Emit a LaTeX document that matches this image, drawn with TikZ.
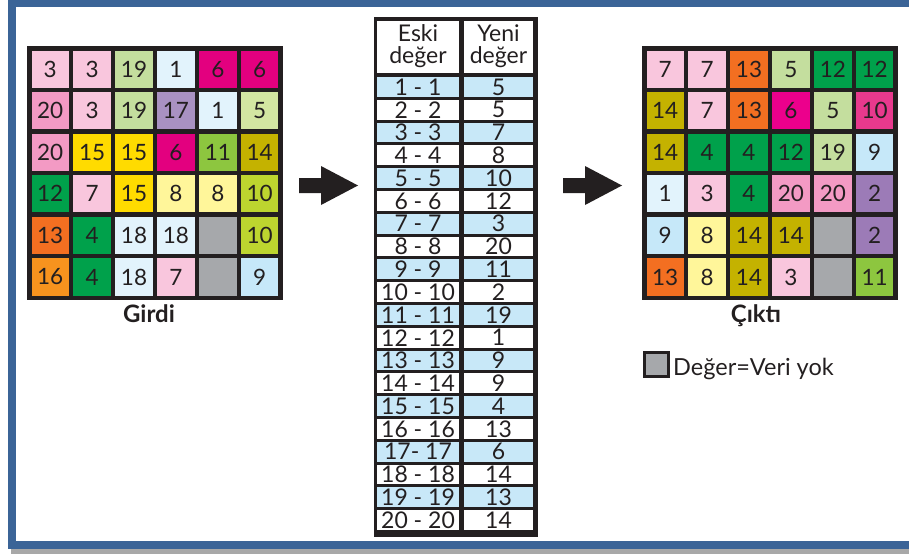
\documentclass[tikz,border=0pt]{standalone}
\usepackage{fontspec}
\setmainfont{Lato}
\definecolor{ink}{HTML}{231F20}
\definecolor{framec}{HTML}{3B6497}
\definecolor{shadowc}{HTML}{A8A8A8}
\definecolor{lpink}{HTML}{F9C6DD}
\definecolor{pinkc}{HTML}{F39AC4}
\definecolor{lgreen}{HTML}{C4DE9E}
\definecolor{pgreen}{HTML}{D3E6A2}
\definecolor{vlblue}{HTML}{E2F3FC}
\definecolor{lblue}{HTML}{C6E8F9}
\definecolor{magentac}{HTML}{E3007F}
\definecolor{magentb}{HTML}{EC008C}
\definecolor{hotpink}{HTML}{E8398D}
\definecolor{lavender}{HTML}{A991C2}
\definecolor{purplec}{HTML}{9C7BB7}
\definecolor{yellowc}{HTML}{FFDB00}
\definecolor{pyellow}{HTML}{FFF69A}
\definecolor{greenc}{HTML}{00A14B}
\definecolor{ygreen}{HTML}{8DC63F}
\definecolor{olive}{HTML}{C4B200}
\definecolor{lime}{HTML}{BDD52F}
\definecolor{orangec}{HTML}{F36F21}
\definecolor{orangeb}{HTML}{F7931E}
\definecolor{nodata}{HTML}{A6A8AB}
\definecolor{tblue}{HTML}{C8E8F8}
\begin{document}
\begin{tikzpicture}[x=1pt,y=-1pt,
  cell/.style={minimum width=37.4pt, minimum height=37.1pt, inner sep=0pt,
    font=\fontsize{22.5}{22.5}\selectfont, text=ink},
  tcell/.style={minimum height=19.8pt, inner sep=0pt,
    font=\fontsize{23}{23}\selectfont, text=ink},
  gridbg/.style={fill=ink, inner sep=0pt, minimum width=256pt, minimum height=254pt},
  caption/.style={anchor=base, font=\fontsize{24}{24}\selectfont\bfseries, text=ink},
  blockarrow/.style={fill=ink}
]
\useasboundingbox (0,0) rectangle (909,554);
% frame
\fill[shadowc] (11,549) rectangle (909,554);
\fill[framec] (8,0) rectangle (909,7);
\fill[framec] (8,0) rectangle (16,549);
\fill[framec] (8,541) rectangle (909,549);

% left grid
\node[gridbg] (Lgrid) at (155,173) {};
\foreach \r/\row in {
  1/{lpink/3,lpink/3,lgreen/19,vlblue/1,magentac/6,magentac/6},
  2/{pinkc/20,lpink/3,lgreen/19,lavender/17,vlblue/1,pgreen/5},
  3/{pinkc/20,yellowc/15,yellowc/15,magentac/6,ygreen/11,olive/14},
  4/{greenc/12,lpink/7,yellowc/15,pyellow/8,pyellow/8,lime/10},
  5/{orangec/13,greenc/4,vlblue/18,vlblue/18,nodata/{},lime/10},
  6/{orangeb/16,greenc/4,vlblue/18,lpink/7,nodata/{},lblue/9}}{
  \foreach \clr/\txt [count=\c] in \row {
    \node[cell, fill=\clr] (L-\r-\c) at ({50.2+(\c-1)*41.9},{69.05+(\r-1)*41.58}) {\txt};
  }
}
\node[caption] (girdi) at (149,322) {Girdi};

% right grid
\node[gridbg] (Rgrid) at (770,173) {};
\foreach \r/\row in {
  1/{lpink/7,lpink/7,orangec/13,lgreen/5,greenc/12,greenc/12},
  2/{olive/14,lpink/7,orangec/13,magentb/6,lgreen/5,hotpink/10},
  3/{olive/14,greenc/4,greenc/4,greenc/12,lgreen/19,lblue/9},
  4/{vlblue/1,lpink/3,greenc/4,pinkc/20,pinkc/20,purplec/2},
  5/{lblue/9,pyellow/8,olive/14,olive/14,nodata/{},purplec/2},
  6/{orangec/13,pyellow/8,olive/14,lpink/3,nodata/{},ygreen/11}}{
  \foreach \clr/\txt [count=\c] in \row {
    \node[cell, fill=\clr] (R-\r-\c) at ({665.2+(\c-1)*41.9},{69.05+(\r-1)*41.58}) {\txt};
  }
}
\node[caption] (cikti) at (756,322) {Çıktı};

% table
\node[fill=ink, inner sep=0pt, minimum width=164pt, minimum height=520pt] (tab) at (456,277) {};
\node[tcell, fill=white, minimum width=82pt, minimum height=52pt, align=center,
  font=\fontsize{23}{22}\selectfont] (hE) at (418,46.5) {Eski\\değer};
\node[tcell, fill=white, minimum width=69pt, minimum height=52pt, align=center,
  font=\fontsize{23}{22}\selectfont] (hY) at (498.5,46.5) {Yeni\\değer};
\foreach \a/\b [count=\i] in {{1 - 1}/5,{2 - 2}/5,{3 - 3}/7,{4 - 4}/8,{5 - 5}/10,
  {6 - 6}/12,{7 - 7}/3,{8 - 8}/20,{9 - 9}/11,{10 - 10}/2,{11 - 11}/19,{12 - 12}/1,
  {13 - 13}/9,{14 - 14}/9,{15 - 15}/4,{16 - 16}/13,{17- 17}/6,{18 - 18}/14,
  {19 - 19}/13,{20 - 20}/14}{
  \pgfmathtruncatemacro\m{mod(\i,2)}
  \ifnum\m=1 \def\rf{tblue}\else\def\rf{white}\fi
  \node[tcell, fill=\rf, minimum width=82pt] (E-\i) at (418,{86.9+(\i-1)*22.8}) {\a};
  \node[tcell, fill=\rf, minimum width=69pt] (Y-\i) at (498.5,{86.9+(\i-1)*22.8}) {\b};
}

% block arrows
\fill[blockarrow] (299,178) -- (321,178) -- (321,166) -- (358,185.5) -- (321,205) -- (321,193) -- (299,193) -- cycle;
\fill[blockarrow] (563,178) -- (585,178) -- (585,166) -- (622,185.5) -- (585,205) -- (585,193) -- (563,193) -- cycle;

% legend
\node[draw=ink, line width=3pt, fill=nodata, minimum size=24pt, inner sep=0pt] (leg) at (656,364.5) {};
\node[anchor=base west, font=\fontsize{23.5}{23.5}\selectfont, text=ink, inner sep=0pt] (legt) at (673,375.5) {Değer=Veri yok};
\end{tikzpicture}
\end{document}
